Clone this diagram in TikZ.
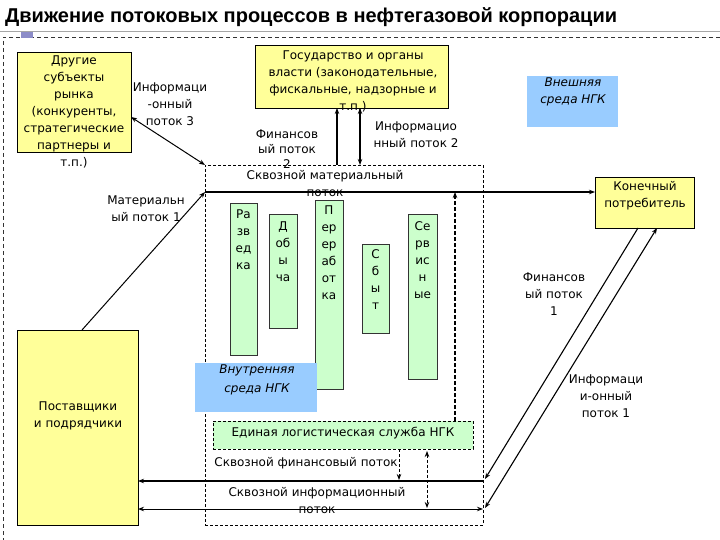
\documentclass[tikz,border=0pt]{standalone}
\usepackage{fontspec}
\setmainfont{DejaVu Sans}
\newfontfamily\titlefont{Liberation Sans}
\usetikzlibrary{arrows.meta,calc}
\definecolor{ylw}{HTML}{FFFF99}
\definecolor{grn}{HTML}{CCFFCC}
\definecolor{blu}{HTML}{99CCFF}
\definecolor{sqc}{HTML}{8C8CC8}
\begin{document}
\begin{tikzpicture}[x=1pt,y=-1pt,
  txt/.style={align=center,inner sep=0pt,font=\fontsize{12}{17}\selectfont},
  itxt/.style={txt,font=\fontsize{12}{17}\selectfont\itshape},
  box/.style={anchor=north west,inner sep=0pt,outer sep=0pt,line width=0.6pt},
  ybox/.style={box,draw=black,fill=ylw},
  gbar/.style={box,draw=black!80,fill=grn},
  bbox/.style={box,fill=blu},
  tip/.style={-{Stealth[length=6pt,width=4.5pt]}},
  dtip/.style={{Stealth[length=6pt,width=4.5pt]}-{Stealth[length=6pt,width=4.5pt]}},
  thickflow/.style={line width=2pt},
  thinflow/.style={line width=1pt},
  dflow/.style={line width=0.8pt,dash pattern=on 3pt off 2pt},
  dthick/.style={line width=1.6pt,dash pattern=on 4pt off 2pt}
]
\useasboundingbox (0,0) rectangle (720,540);
% header
\node[anchor=west,inner sep=0pt,font=\titlefont\fontsize{20}{22}\selectfont\bfseries] (title) at (5,17) {Движение потоковых процессов в нефтегазовой корпорации};
\draw[black!35,line width=0.5pt] (0,31) -- (720,31);
\draw[black!80,line width=0.6pt,dash pattern=on 4pt off 3pt] (720,37) -- (3,37) -- (3,540);
\fill[sqc] (21,32) rectangle (33,38);

% main dashed frame
\node[box,draw=black,dflow,line width=0.6pt,minimum width=278pt,minimum height=360pt] (flow) at (205,165) {};

% boxes
\node[ybox,minimum width=114pt,minimum height=100pt] (other) at (17,52) {};
\node[ybox,minimum width=193pt,minimum height=63pt] (gov) at (255,45) {};
\node[bbox,minimum width=91pt,minimum height=51pt] (ext) at (527,76) {};
\node[ybox,minimum width=99pt,minimum height=51pt] (cons) at (595,177) {};
\node[ybox,minimum width=121pt,minimum height=195pt] (supp) at (17,330) {};

% bars
\node[gbar,minimum width=27pt,minimum height=152pt] (b1) at (230,203) {};
\node[gbar,minimum width=28pt,minimum height=114pt] (b2) at (269,214) {};
\node[gbar,minimum width=28pt,minimum height=189pt] (b3) at (315,200) {};
\node[gbar,minimum width=27pt,minimum height=89pt] (b4) at (362,244) {};
\node[gbar,minimum width=29pt,minimum height=165pt] (b5) at (408,214) {};

\node[bbox,minimum width=122pt,minimum height=49pt] (int) at (195,363) {};
\node[box,draw=black,fill=grn,dash pattern=on 3pt off 2pt,minimum width=260pt,minimum height=28pt] (unified) at (213,421) {};

% coordinates
\coordinate (m0) at (205,192);
\coordinate (f0) at (483,481);
\coordinate (i0) at (483,509);

% texts
\node[txt] (tother) at (74,112) {Другие\\субъекты\\рынка\\(конкуренты,\\стратегические\\партнеры и\\т.п.)};
\node[txt] (ti3) at (170,104) {Информаци\\-онный\\поток 3};
\node[txt] (tgov) at (353,81) {Государство и органы\\власти (законодательные,\\фискальные, надзорные и\\т.п.)};
\node[txt,font=\fontsize{12}{15}\selectfont] (tf2) at (287,149) {Финансов\\ый поток\\2};
\node[txt] (ti2) at (416,135) {Информацио\\нный поток 2};
\node[txt] (tmat) at (325,184) {Сквозной материальный\\поток};
\node[txt] (tm1) at (146,209) {Материальн\\ый поток 1};
\node[itxt] (text) at (573,92) {Внешняя\\среда НГК};
\node[txt] (tcons) at (645,196) {Конечный\\потребитель};
\node[txt] (tf1) at (554,294) {Финансов\\ый поток\\1};
\node[txt] (ti1) at (606,396) {Информаци\\и-онный\\поток 1};
\node[itxt,font=\fontsize{12}{19}\selectfont\itshape] (tint) at (257,380) {Внутренняя\\среда НГК};
\node[txt] (tuni) at (343,433) {Единая логистическая служба НГК};
\node[txt] (tfin) at (306,463) {Сквозной финансовый поток};
\node[txt] (tinf) at (317,501) {Сквозной информационный\\поток};
\node[txt] (tsupp) at (78,416) {Поставщики\\и подрядчики};

\node[txt] (tb1) at (243.5,240) {Ра\\зв\\ед\\ка};
\node[txt] (tb2) at (283,252) {Д\\об\\ы\\ча};
\node[txt] (tb3) at (329,253) {П\\ер\\ер\\аб\\от\\ка};
\node[txt] (tb4) at (375.5,280) {С\\б\\ы\\т};
\node[txt] (tb5) at (422.5,260) {Се\\рв\\ис\\н\\ые};

% connectors
\draw[dtip,line width=1pt] ([yshift=-15pt]other.east) -- (flow.north west);
\draw[tip,line width=1pt] ([xshift=4.5pt]supp.north) -- (m0);
\draw[thickflow,tip] (m0) -- (m0 -| cons.west);
\draw[tip,line width=1.2pt] ($(gov.south)+(-14.5,57)$) -- ($(gov.south)+(-14.5,0)$);
\draw[dtip,line width=1.2pt] ($(gov.south)+(8.5,57)$) -- ($(gov.south)+(8.5,0)$);
\draw[dthick,tip] ($(unified.north west)+(242,0)$) -- ($(unified.north west)+(242,-229)$);
\draw[dflow,tip] ($(unified.south west)+(186,0)$) -- ($(unified.south west)+(186,31)$);
\draw[dflow,dtip] ($(unified.south west)+(214,2)$) -- ($(unified.south west)+(214,59)$);
\draw[thickflow,tip] (f0) -- (f0 -| supp.east);
\draw[thinflow,dtip] (i0 -| supp.east) -- (i0);
\draw[tip,line width=1.1pt] ($(cons.south west)+(43,0)$) -- ($(f0)+(2,-2)$);
\draw[dtip,line width=1.1pt] ($(i0)+(2,-1)$) -- ($(cons.south west)+(62,0)$);
\end{tikzpicture}
\end{document}
